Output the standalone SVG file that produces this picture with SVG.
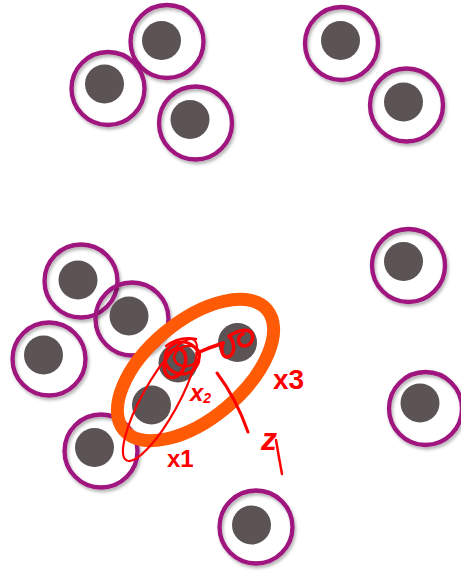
<svg xmlns="http://www.w3.org/2000/svg" width="461" height="571" viewBox="0 0 461 571">
  <defs>
    <filter id="sh" x="-20%" y="-20%" width="150%" height="150%">
      <feDropShadow dx="1.5" dy="2.5" stdDeviation="1.6" flood-color="#000" flood-opacity="0.3"/>
    </filter>
  </defs>
  <style>
    .ring { fill: none; stroke: #a0127f; stroke-width: 4.3; filter: url(#sh); }
    .nuc { fill: #5b5354; }
    .ink { fill: none; stroke: #ff0000; stroke-linecap: round; stroke-linejoin: round; }
    .lbl { fill: #ff0000; font-family: "Liberation Sans", "DejaVu Sans", sans-serif; font-weight: bold; }
  </style>
  <rect width="461" height="571" fill="#ffffff"/>

  <g id="cell-a"><circle class="ring" cx="167" cy="41.5" r="36.5"/><circle class="nuc" cx="161.5" cy="40.5" r="19.5"/></g>
  <g id="cell-b"><circle class="ring" cx="108" cy="88.5" r="36.5"/><circle class="nuc" cx="104.5" cy="84" r="19.5"/></g>
  <g id="cell-c"><circle class="ring" cx="195.5" cy="123" r="36.5"/><circle class="nuc" cx="190" cy="119.5" r="19.5"/></g>
  <g id="cell-d"><circle class="ring" cx="341.5" cy="43.5" r="36.5"/><circle class="nuc" cx="340.5" cy="40.5" r="19.5"/></g>
  <g id="cell-e"><circle class="ring" cx="406.5" cy="105" r="36.5"/><circle class="nuc" cx="403.5" cy="102" r="19.5"/></g>
  <g id="cell-f"><circle class="ring" cx="408.5" cy="265.5" r="36.5"/><circle class="nuc" cx="403.5" cy="261.5" r="19.5"/></g>
  <g id="cell-g"><circle class="ring" cx="425.5" cy="408.5" r="36.5"/><circle class="nuc" cx="420" cy="403" r="19.5"/></g>
  <g id="cell-h"><circle class="ring" cx="256" cy="527" r="36.5"/><circle class="nuc" cx="251.5" cy="525" r="19.5"/></g>
  <g id="cell-i"><circle class="ring" cx="81" cy="281" r="36.5"/><circle class="nuc" cx="78" cy="280" r="19.5"/></g>
  <g id="cell-j"><circle class="ring" cx="132" cy="319" r="36.5"/><circle class="nuc" cx="129" cy="316" r="19.5"/></g>
  <g id="cell-k"><circle class="ring" cx="49" cy="359" r="36.5"/><circle class="nuc" cx="43.5" cy="355" r="19.5"/></g>
  <g id="cell-l"><circle class="ring" cx="101" cy="451" r="36.5"/><circle class="nuc" cx="94.5" cy="447.5" r="19.5"/></g>

  <g id="nucleus-x1"><circle class="nuc" cx="151.5" cy="405" r="19.5"/></g>
  <g id="nucleus-x2"><circle class="nuc" cx="178" cy="363" r="19.5"/></g>
  <g id="nucleus-x3"><circle class="nuc" cx="237.5" cy="342.5" r="19.5"/></g>

  <g id="group-ellipse">
    <ellipse cx="195.5" cy="370" rx="93.5" ry="48.5" transform="rotate(-40 195.5 370)" fill="none" stroke="#ff5a05" stroke-width="13"/>
  </g>

  <g id="connectors">
    <ellipse class="ink" cx="160" cy="400" rx="69" ry="18" transform="rotate(-61 160 400)" stroke-width="2.2"/>
    <ellipse class="ink" cx="182" cy="358" rx="17" ry="16" stroke-width="3"/>
    <ellipse class="ink" cx="175" cy="363" rx="10" ry="15" transform="rotate(20 175 363)" stroke-width="3.5"/>
    <ellipse class="ink" cx="187" cy="356" rx="13" ry="10" transform="rotate(-15 187 356)" stroke-width="2.5"/>
    <path class="ink" d="M 166 346 C 175 339, 186 337, 196 339" stroke-width="2.5"/>
    <path class="ink" d="M 197 353 C 206 349, 214 346, 223 343" stroke-width="3.5"/>
    <path class="ink" d="M 223 343 C 220 351, 223 360, 230 356 C 236 351, 234 341, 229 336 C 237 331, 245 328, 251 332 C 255 338, 251 346, 244 346 C 238 345, 236 337, 243 334" stroke-width="3.5"/>
    <path class="ink" d="M 217 373 Q 236 398 248 432" stroke-width="3"/>
    <path class="ink" d="M 276 440 Q 279 458 282 474" stroke-width="2.5"/>
  </g>

  <g id="labels">
    <text class="lbl" x="190" y="401" font-size="24" font-style="italic">x<tspan font-size="14" dy="2">2</tspan></text>
    <text class="lbl" x="273" y="389" font-size="28">x3</text>
    <text class="lbl" x="167" y="467" font-size="24">x1</text>
    <text class="lbl" x="261" y="450" font-size="32" font-style="italic">z</text>
  </g>
</svg>
